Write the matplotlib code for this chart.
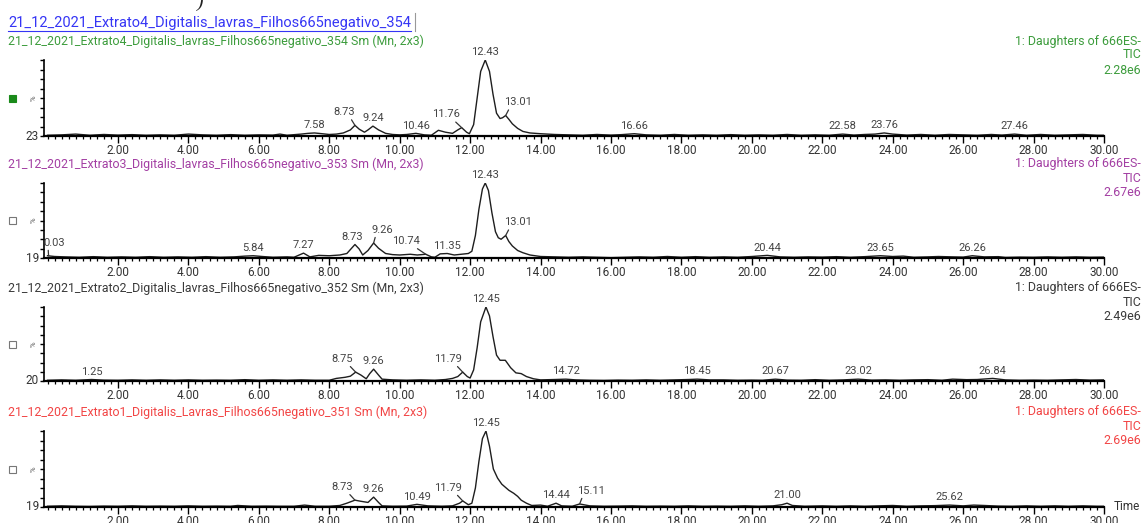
import numpy as np
import matplotlib
matplotlib.use("Agg")
import matplotlib.pyplot as plt
from matplotlib.patches import Rectangle
from matplotlib.lines import Line2D
from matplotlib.ticker import MultipleLocator, FixedLocator

plt.rcParams['font.family'] = ['Roboto', 'DejaVu Sans']

# header / sample names
header = "21_12_2021_Extrato4_Digitalis_lavras_Filhos665negativo_354"
titles = [
    "21_12_2021_Extrato4_Digitalis_lavras_Filhos665negativo_354 Sm (Mn, 2x3)",
    "21_12_2021_Extrato3_Digitalis_lavras_Filhos665negativo_353 Sm (Mn, 2x3)",
    "21_12_2021_Extrato2_Digitalis_lavras_Filhos665negativo_352 Sm (Mn, 2x3)",
    "21_12_2021_Extrato1_Digitalis_Lavras_Filhos665negativo_351 Sm (Mn, 2x3)",
]
intensities = ["2.28e6", "2.67e6", "2.49e6", "2.69e6"]
min_pct = ["23", "19", "20", "19"]
colors = ["#3c9c3c", "#a33fa3", "#3a3a3a", "#f24545"]

# Extrato4 (354)
t1 = [0.0, 0.4, 0.8, 1.2, 1.6, 2.0, 2.4, 2.8, 3.2, 3.6, 4.0, 4.4, 4.8, 5.2, 5.6, 6.0, 6.4, 6.6, 6.8,
      7.2, 7.4, 7.58, 7.8, 8.0, 8.2, 8.4, 8.6, 8.73, 8.85, 9.0, 9.1, 9.24, 9.4, 9.6, 9.8, 10.0, 10.2,
      10.46, 10.7, 10.9, 11.1, 11.3, 11.5, 11.65, 11.76, 11.9, 11.98, 12.1, 12.2, 12.3, 12.43, 12.55,
      12.65, 12.75, 12.85, 12.92, 13.01, 13.1, 13.2, 13.35, 13.5, 13.7, 14.0, 14.4, 14.8, 15.2, 15.6,
      16.0, 16.3, 16.66, 17.0, 17.4, 17.8, 18.2, 18.6, 19.0, 19.4, 19.8, 20.2, 20.6, 21.0, 21.4, 21.8,
      22.2, 22.58, 22.9, 23.2, 23.5, 23.76, 24.0, 24.4, 24.8, 25.2, 25.6, 26.0, 26.4, 26.8, 27.1,
      27.46, 27.8, 28.2, 28.6, 29.0, 29.4, 29.8, 30.0]
y1 = [1.0, 1.5, 2.5, 1.0, 2.0, 1.2, 1.8, 1.0, 1.5, 1.0, 2.5, 1.5, 1.0, 1.8, 1.0, 1.5, 1.2, 2.5, 1.0,
      2.5, 3.5, 4.0, 3.0, 2.0, 2.5, 4.0, 8.0, 14.0, 9.0, 5.0, 8.0, 13.0, 8.0, 3.5, 2.0, 1.5, 2.0,
      3.5, 1.5, 1.0, 7.5, 5.0, 3.5, 8.0, 11.0, 5.0, 3.0, 15, 50, 85, 100, 85,
      55, 30, 23, 24, 27, 22, 16, 10, 6, 4, 3, 2, 1.5, 1.0, 2.0,
      1.2, 1.8, 3.0, 1.5, 1.0, 2.0, 1.0, 1.5, 1.0, 1.8, 1.0, 1.5, 1.0, 2.0, 1.0, 1.5,
      1.0, 2.5, 1.2, 2.0, 2.5, 4.0, 2.5, 1.2, 2.0, 1.0, 2.0, 1.5, 1.0, 2.0, 1.2,
      2.5, 1.0, 2.0, 1.0, 1.5, 2.0, 1.0, 1.0]
peaks1 = [7.58, 8.73, 9.24, 10.46, 11.76, 12.43, 13.01, 16.66, 22.58, 23.76, 27.46]

# Extrato3 (353)
t2 = [0.0, 0.2, 0.5, 0.9, 1.3, 1.7, 2.1, 2.5, 2.9, 3.3, 3.7, 4.1, 4.5, 4.9, 5.3, 5.6, 5.84, 6.1, 6.4,
      6.8, 7.0, 7.27, 7.45, 7.7, 8.0, 8.3, 8.5, 8.73, 8.85, 8.95, 9.1, 9.26, 9.4, 9.6, 9.8, 10.0, 10.3,
      10.5, 10.74, 10.9, 11.0, 11.15, 11.35, 11.55, 11.75, 11.95, 12.05, 12.15, 12.25, 12.35, 12.43,
      12.52, 12.62, 12.72, 12.8, 12.88, 13.01, 13.1, 13.2, 13.35, 13.5, 13.7, 14.0, 14.4, 14.8, 15.2,
      15.6, 16.0, 16.4, 16.8, 17.2, 17.6, 18.0, 18.4, 18.8, 19.2, 19.6, 20.0, 20.44, 20.8, 21.2, 21.6,
      22.0, 22.4, 22.8, 23.2, 23.65, 24.0, 24.3, 24.6, 25.0, 25.3, 25.7, 26.0, 26.26, 26.6, 27.0, 27.2,
      27.6, 28.0, 28.4, 28.8, 29.2, 29.6, 30.0]
y2 = [3.0, 2.0, 1.5, 1.0, 1.8, 1.0, 1.5, 1.0, 1.8, 1.0, 1.5, 1.0, 1.8, 1.0, 1.5, 2.5, 3.0, 2.0, 1.0,
      1.5, 1.0, 6.5, 1.5, 3.5, 3.0, 4.0, 6.0, 18, 12, 4.0, 10, 20, 13, 6, 4.5, 4.0, 5.0,
      4.0, 5.0, 1.5, 1.0, 5.5, 6.0, 4.0, 5.0, 6.0, 9, 30, 65, 92, 100,
      90, 60, 35, 27, 25, 30, 22, 16, 10, 7, 4, 2.0, 1.5, 1.0, 1.5,
      1.0, 0.5, 1.0, 1.5, 1.0, 2.0, 1.0, 1.8, 1.0, 1.5, 1.0, 2.0, 3.5, 1.5, 1.0, 1.5,
      1.2, 1.8, 1.0, 1.8, 3.0, 2.0, 2.5, 1.0, 1.5, 2.0, 1.5, 1.2, 3.0, 1.5, 1.8, 0.8,
      1.2, 1.0, 1.5, 1.0, 1.5, 1.0, 1.2]
peaks2 = [0.03, 5.84, 7.27, 8.73, 9.26, 10.74, 11.35, 12.43, 13.01, 20.44, 23.65, 26.26]

# Extrato2 (352)
t3 = [0.0, 0.4, 0.8, 1.25, 1.6, 2.0, 2.4, 2.8, 3.2, 3.6, 4.0, 4.4, 4.8, 5.2, 5.6, 6.0, 6.4, 6.8, 7.2,
      7.6, 8.0, 8.2, 8.45, 8.6, 8.75, 8.9, 9.05, 9.15, 9.26, 9.4, 9.5, 9.8, 10.2, 10.6, 11.0, 11.3,
      11.5, 11.65, 11.79, 11.92, 12.0, 12.1, 12.2, 12.3, 12.45, 12.55, 12.65, 12.75, 12.85, 13.0,
      13.15, 13.3, 13.45, 13.6, 13.8, 14.0, 14.4, 14.72, 15.0, 15.4, 15.8, 16.2, 16.6, 17.0, 17.4,
      17.8, 18.2, 18.45, 18.8, 19.2, 19.6, 20.0, 20.3, 20.67, 21.0, 21.4, 21.8, 22.2, 22.6, 23.02,
      23.4, 23.8, 24.2, 24.6, 25.0, 25.4, 25.7, 26.1, 26.4, 26.84, 27.2, 27.6, 28.0, 28.4, 28.8, 29.2,
      29.6, 30.0]
y3 = [1.0, 1.5, 1.0, 2.0, 1.2, 1.0, 1.5, 1.0, 1.5, 1.0, 1.5, 1.0, 1.2, 1.0, 1.8, 1.0, 1.5, 1.0, 1.5,
      1.0, 1.0, 3.5, 5.0, 6.5, 12, 8, 3, 10, 16, 8, 2.5, 1.5, 1.0, 1.5, 1.0, 2.0,
      3.5, 6, 12, 6, 4, 15, 45, 80, 100, 88, 60, 35, 28, 28,
      18, 11, 10, 6, 3, 1.5, 2.0, 2.5, 1.5, 1.0, 0.8, 1.2, 1.0, 1.5, 1.0,
      1.5, 2.0, 2.5, 1.5, 1.5, 1.0, 1.2, 1.0, 2.5, 1.2, 1.0, 1.8, 1.0, 1.5, 2.5,
      1.2, 1.5, 1.0, 1.5, 1.8, 1.0, 2.5, 1.8, 2.0, 3.5, 1.5, 1.0, 1.2, 1.0, 1.5, 2.0,
      1.2, 1.5]
peaks3 = [1.25, 8.75, 9.26, 11.79, 12.45, 14.72, 18.45, 20.67, 23.02, 26.84]

# Extrato1 (351)
t4 = [0.0, 0.4, 0.8, 1.2, 1.6, 2.0, 2.4, 2.8, 3.2, 3.6, 4.0, 4.4, 4.8, 5.2, 5.4, 5.8, 6.2, 6.6, 7.0,
      7.3, 7.6, 8.0, 8.3, 8.5, 8.73, 8.9, 9.1, 9.26, 9.4, 9.5, 9.8, 10.2, 10.49, 10.8, 11.2, 11.5,
      11.7, 11.79, 11.95, 12.05, 12.15, 12.25, 12.35, 12.45, 12.55, 12.66, 12.78, 12.9, 13.0, 13.1,
      13.24, 13.35, 13.45, 13.6, 13.75, 14.0, 14.2, 14.44, 14.6, 14.9, 15.11, 15.4, 15.8, 16.2, 16.6,
      17.0, 17.4, 17.8, 18.2, 18.6, 19.0, 19.4, 19.8, 20.2, 20.6, 20.85, 21.0, 21.15, 21.5, 22.0,
      22.4, 22.8, 23.2, 23.6, 24.0, 24.4, 24.8, 25.2, 25.62, 26.0, 26.3, 26.6, 27.0, 27.4, 27.8,
      28.2, 28.6, 29.0, 29.4, 29.8, 30.0]
y4 = [1.0, 1.5, 1.0, 0.8, 1.2, 1.0, 1.5, 1.0, 1.2, 1.0, 1.5, 1.0, 1.2, 1.0, 2.0, 1.0, 1.2, 1.0, 1.0,
      2.5, 1.0, 1.0, 2.0, 5.0, 9.0, 7.5, 6.0, 13, 6, 1.5, 1.0, 1.2, 3.5, 1.5, 1.0, 1.5,
      5.0, 8.0, 3.0, 5, 25, 60, 90, 100, 80, 50, 38, 30, 26, 22,
      18, 14, 9, 5, 2, 2.5, 1.0, 5.0, 1.5, 1.0, 4.0, 1.5, 1.0, 1.2, 1.5,
      1.0, 1.2, 1.0, 1.5, 1.0, 1.2, 1.0, 1.5, 1.0, 1.5, 3.0, 5.0, 2.0, 1.0, 1.5,
      1.0, 1.5, 1.0, 1.5, 2.0, 1.0, 1.5, 1.8, 2.5, 1.5, 2.5, 2.0, 1.2, 1.0, 1.5,
      1.0, 1.5, 1.0, 1.5, 1.0, 1.0]
peaks4 = [8.73, 9.26, 10.49, 11.79, 12.45, 14.44, 15.11, 21.00, 25.62]

# horizontal shift (min) of peak labels that sit beside their peak with a leader line
shift1 = [0, -0.3, 0, 0, -0.45, 0, 0.36, 0, 0, 0, 0]
shift2 = [0.17, 0, 0, -0.08, 0.25, -0.55, 0, 0, 0.36, 0, 0, 0]
shift3 = [0, -0.38, 0, -0.42, 0, 0, 0, 0, 0, 0]
shift4 = [-0.37, 0, 0, -0.42, 0, 0, 0.33, 0, 0]

series = [(t1, y1, peaks1, shift1), (t2, y2, peaks2, shift2),
          (t3, y3, peaks3, shift3), (t4, y4, peaks4, shift4)]

W, H = 1143, 523
fig = plt.figure(figsize=(W / 100, H / 100), dpi=100)

tops = [60, 183, 307, 431]
bottoms = [136, 258, 381, 507]
left_px, right_px = 44, 1104
px_per_min = (right_px - 47.6) / 30
grey = "#444444"
fs_small = 8.9

# header line (blue, underlined)
hdr = fig.text(8 / W, 1 - 23 / H, header, color="#3535f5", fontsize=10.5, va="center", ha="left")
fig.canvas.draw()
bb = hdr.get_window_extent()
fig.add_artist(Line2D([bb.x0 / W, bb.x1 / W], [(bb.y0 - 1) / H] * 2, color="#3535f5", lw=0.8,
                      transform=fig.transFigure))
fig.add_artist(Line2D([(bb.x1 + 4) / W] * 2, [1 - 31 / H, 1 - 13 / H], color="#999999", lw=0.8,
                      transform=fig.transFigure))
fig.text(200 / W, 1 - 2 / H, ")", fontsize=14, family="Liberation Serif", style="italic",
         va="center", ha="center", color="#222222")

for i, (t, y, peaks, shifts) in enumerate(series):
    top, bot = tops[i], bottoms[i]
    ax = fig.add_axes([left_px / W, 1 - bot / H, (right_px - left_px) / W, (bot - top) / H])
    ax.plot(t, y, color="#1e1e1e", lw=1.0)
    ax.set_xlim(-0.1, 30)
    ax.set_ylim(0, 100)
    for s in ["top", "right"]:
        ax.spines[s].set_visible(False)
    ax.spines["bottom"].set_linewidth(1.6)
    ax.spines["left"].set_linewidth(1.2)
    ax.xaxis.set_major_locator(FixedLocator(np.arange(2, 31, 2)))
    ax.xaxis.set_minor_locator(MultipleLocator(0.2))
    ax.set_xticklabels(["%.2f" % v for v in np.arange(2, 31, 2)])
    ax.tick_params(axis="x", which="major", length=5, width=1, labelsize=8.5, pad=1,
                   labelcolor="#333333")
    ax.tick_params(axis="x", which="minor", length=2.2, width=0.9)
    ax.set_yticks(np.linspace(0, 100, 9))
    ax.set_yticklabels([])
    ax.tick_params(axis="y", length=3, width=1)

    # peak labels
    for p, dx in zip(peaks, shifts):
        v = np.interp(p, t, y)
        if abs(dx) < 0.15:
            ax.annotate("%.2f" % p, (p + dx, v), xytext=(0, 2), textcoords="offset points",
                        ha="center", va="bottom", fontsize=8, color=grey, annotation_clip=False)
        else:
            off = dx * px_per_min * 0.72
            ax.annotate("%.2f" % p, (p, v), xytext=(off, 6), textcoords="offset points",
                        ha="center", va="bottom", fontsize=8, color=grey, annotation_clip=False,
                        arrowprops=dict(arrowstyle="-", lw=0.9, color="#333333", shrinkA=0,
                                        shrinkB=0, relpos=(0.75, 0) if dx < 0 else (0.2, 0)))

    # texts around the panel
    fig.text(8 / W, 1 - (top - 19) / H, titles[i], color=colors[i], fontsize=fs_small, va="center")
    fig.text(1141 / W, 1 - (top - 19) / H, "1: Daughters of 666ES-", color=colors[i],
             fontsize=fs_small, va="center", ha="right")
    fig.text(1141 / W, 1 - (top - 5) / H, "TIC", color=colors[i], fontsize=fs_small,
             va="center", ha="right")
    fig.text(1141 / W, 1 - (top + 10) / H, intensities[i], color=colors[i], fontsize=fs_small,
             va="center", ha="right")
    fig.text(39 / W, 1 - bot / H, min_pct[i], color="#333333", fontsize=8.5, va="center", ha="right")
    mid = (top + bot) / 2
    fig.text(34 / W, 1 - mid / H, "%", color="#555555", fontsize=5.5, rotation=90,
             va="center", ha="center")
    fig.add_artist(Rectangle((9 / W, 1 - (mid + 3.5) / H), 7 / W, 7 / H, transform=fig.transFigure,
                             facecolor="#1a8a1a" if i == 0 else "white",
                             edgecolor="#1a8a1a" if i == 0 else "#777777", lw=0.8))

fig.text(1114 / W, 1 - 507 / H, "Time", color="#333333", fontsize=8.5, va="center", ha="left")

fig.savefig("out.png", dpi=100)
